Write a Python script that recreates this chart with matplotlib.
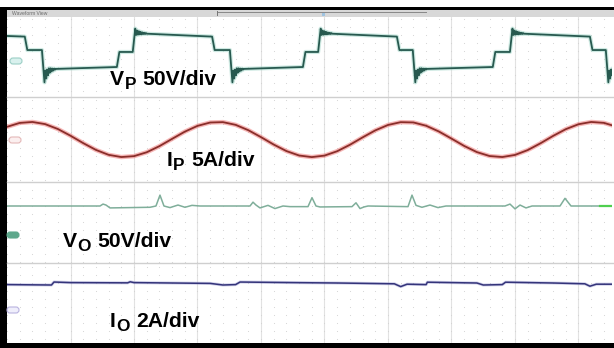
import matplotlib
matplotlib.use("Agg")
import matplotlib.pyplot as plt
from matplotlib.patches import Rectangle, FancyBboxPatch

# ---------------- data (time in divisions, 63.5 px per div) ----------------
# VP: three-level quasi-square wave, 50 V/div
vp_edge_t = [0.28, 0.55, 1.73, 1.98, 3.23, 3.51, 4.66, 4.90, 6.14, 6.39, 7.65, 7.92, 9.18, 9.43]
vp_edge_to = ["midf", "low", "midr", "high", "midf", "low", "midr", "high",
              "midf", "low", "midr", "high", "midf", "low"]
vp_level_start = {"high": 54, "low": -56, "midf": 3, "midr": -3}
vp_level_end = {"high": 45, "low": -50, "midf": 3, "midr": -3}
vp_ring_high = [16, -4, 10, -3, 8, -2, 6, -2, 4, -1, 3, -1, 2, 0]
vp_ring_low = [-42, -5, -30, -2, -20, 2, -12, 2, -8, 1, -5, 1, -2, 0]
vp_t_end = 9.56

# IP: sinusoidal current, 5 A/div
ip_t = [round(0.2 * i, 1) for i in range(49)]
ip_v = [3.96, 5.18, 5.48, 4.81, 3.29, 1.18, -1.13, -3.25, -4.79, -5.48,
        -5.20, -3.99, -2.08, 0.20, 2.45, 4.26, 5.31, 5.43, 4.58, 2.91,
        0.74, -1.58, -3.61, -5.00, -5.50, -5.03, -3.66, -1.65, 0.66, 2.85,
        4.54, 5.42, 5.33, 4.30, 2.51, 0.28, -2.02, -3.94, -5.17, -5.48,
        -4.82, -3.31, -1.20, 1.12, 3.23, 4.77, 5.48, 5.20, 4.00]

# VO: output voltage, 50 V/div
vo_t = [0, 1.465, 1.512, 1.559, 1.622, 2.252, 2.346, 2.409, 2.472, 2.567, 2.693,
        2.803, 2.913, 3.039, 3.827, 3.874, 3.921, 3.984, 4.110, 4.220, 4.346,
        4.457, 4.740, 4.803, 4.866, 4.929, 5.433, 5.496, 5.559, 5.622, 5.685,
        6.315, 6.378, 6.441, 6.535, 6.661, 6.787, 6.913, 7.843, 7.921, 8.000,
        8.079, 8.173, 8.268, 8.709, 8.787, 8.882, 9.339, 9.559]
vo_v = [0, 0, 6, 3, -6, -4, 0, 34, 0, -5, 3,
        -4, 2, 0, 0, 12, 3, -6, 2, -8, 0,
        -2, -2, 26, 0, -3, -2, 10, -8, -3, 0,
        -2, 34, 2, -4, 3, -5, 0, 0, 6, -9,
        3, -6, 0, 0, 24, 0, 0, 0]

# IO: output current, 2 A/div
io_t = [0, 0.70, 0.74, 1.0, 1.9, 1.94, 2.0, 3.2, 3.4, 3.6, 3.67, 4.5, 5.2,
        6.1, 6.2, 6.3, 6.6, 6.62, 7.4, 7.5, 7.8, 7.85, 8.6, 9.1, 9.18, 9.28, 9.559]
io_v = [-0.2, -0.25, 0.12, 0.05, 0.02, 0.15, 0.05, -0.05, -0.25, -0.2, 0.12, 0.05, 0.0,
        -0.1, -0.45, -0.15, -0.2, 0.1, 0.0, -0.25, -0.2, 0.1, 0.0, -0.1, -0.4, -0.15, -0.15]

labels = [("V", "P", "50V/div"), ("I", "P", "5A/div"), ("V", "O", "50V/div"), ("I", "O", "2A/div")]

# ---------------- figure ----------------
W, H = 614, 348
fig = plt.figure(figsize=(6.14, 3.48), dpi=100)
fig.patch.set_facecolor("white")

X0 = 7
PX_PER_DIV = 63.5
XMAX = (W - X0) / PX_PER_DIV
panels = [(17, 97, 51, 50.0), (97, 182, 139.5, 5.0), (182, 263, 206, 50.0), (263, 343, 283, 2.0)]
DIV_PX = 16.0

axes = []
for (top, bot, zero, upd) in panels:
    ax = fig.add_axes([X0 / W, 1 - bot / H, (W - X0) / W, (bot - top) / H])
    per_px = upd / DIV_PX
    ax.set_xlim(0, XMAX)
    ax.set_ylim(-(bot - zero) * per_px, (zero - top) * per_px)
    ax.axis("off")
    ax.set_zorder(1)
    for k in range(1, 10):
        ax.axvline(k, color="#e2e2e2", lw=0.8, zorder=0)
    xs = [0.2 * i for i in range(int(XMAX / 0.2) + 1)]
    lo, hi = ax.get_ylim()
    rows = []
    r = 0.0
    while r - upd * 0.5 > lo:
        r -= upd * 0.5
    while r < hi:
        rows.append(r)
        r += upd * 0.5
    gx = [x for _ in rows for x in xs]
    gy = [y for y in rows for _ in xs]
    ax.scatter(gx, gy, s=0.6, color="#d2d2d2", zorder=0, linewidths=0)
    axes.append(ax)

# VP trace
pts_t, pts_v = [0.0], [47.0]
cur = "high"
for i, te in enumerate(vp_edge_t):
    pts_t.append(te); pts_v.append(vp_level_end[cur])
    new = vp_edge_to[i]
    ts = te + 0.04
    ring = vp_ring_high if new == "high" else vp_ring_low if new == "low" else None
    if ring is None:
        pts_t.append(ts); pts_v.append(vp_level_start[new])
    else:
        for k, off in enumerate(ring):
            pts_t.append(ts + 0.014 * k); pts_v.append(vp_level_start[new] + off)
    cur = new
pts_t.append(vp_t_end); pts_v.append(vp_level_end[cur])
axes[0].plot(pts_t, pts_v, color="#a6d8cb", lw=3.0, alpha=0.55, solid_joinstyle="round")
axes[0].plot(pts_t, pts_v, color="#27594f", lw=1.3)

# IP trace
axes[1].plot(ip_t, ip_v, color="#ee7070", lw=3.2, alpha=0.5, solid_capstyle="round")
axes[1].plot(ip_t, ip_v, color="#8a2e2a", lw=1.3)

# VO trace
axes[2].plot(vo_t[:-1], vo_v[:-1], color="#7fae9a", lw=1.1)
axes[2].plot(vo_t[-2:], vo_v[-2:], color="#4fcf4f", lw=1.6)

# IO trace
axes[3].plot(io_t, io_v, color="#9a9ad0", lw=2.2, alpha=0.45)
axes[3].plot(io_t, io_v, color="#34347a", lw=1.1)

# ---------------- overlay: frame, bar, markers, labels ----------------
ov = fig.add_axes([0, 0, 1, 1])
ov.set_xlim(0, W); ov.set_ylim(H, 0); ov.axis("off"); ov.set_zorder(5)
ov.patch.set_visible(False)

ov.add_patch(Rectangle((0, 0), W, 7, color="white", lw=0))
ov.add_patch(Rectangle((611.5, 0), 3, H, color="white", lw=0))
ov.add_patch(Rectangle((0, 7), W, 3, color="black", lw=0))
ov.add_patch(Rectangle((0, 7), 6.5, H - 7, color="black", lw=0))
ov.add_patch(Rectangle((0, 343), W, 5, color="black", lw=0))
ov.add_patch(Rectangle((6.5, 10), W, 7, color="#d8d8d8", lw=0))
ov.add_patch(Rectangle((217, 11.5), 210, 1.2, color="#8a8a8a", lw=0))
ov.add_patch(Rectangle((216.5, 10.5), 1.2, 5, color="#777777", lw=0))
ov.add_patch(Rectangle((322, 13), 3, 3, color="#9fc3e0", lw=0))
ov.text(12, 13.8, "Waveform View", fontsize=3.6, color="#6a6a6a", va="center", ha="left",
        family="Liberation Sans")

for yb in (97, 182, 263):
    ov.plot([6.5, W], [yb, yb], color="#cfcfcf", lw=1.0)

markers = [(16, 61, "#d9f1ee", "#9ccfc6"), (15, 140, "#fbefef", "#e4b8b8"),
           (13, 235, "#5ea88c", "#5ea88c"), (13, 310, "#efeefb", "#b9b3e0")]
for cx, cy, fc, ec in markers:
    ov.add_patch(FancyBboxPatch((cx - 6, cy - 3), 12, 6, boxstyle="round,pad=0,rounding_size=3",
                                fc=fc, ec=ec, lw=0.8))

label_pos = [(110, 85), (167, 166), (63, 247), (110, 327)]
FS = 15.2
renderer = fig.canvas.get_renderer()
for (x, yb), (main, sub, rest) in zip(label_pos, labels):
    kw = dict(family="Liberation Sans", fontweight="bold", color="black", va="baseline", ha="left")
    t1 = ov.text(x, yb, main, fontsize=FS, **kw)
    x2 = t1.get_window_extent(renderer).x1
    t2 = ov.text(x2 + 0.5, yb + 4, sub, fontsize=FS * 0.82, **kw)
    x3 = t2.get_window_extent(renderer).x1
    ov.text(x3 + 6, yb, rest, fontsize=FS, **kw)

fig.savefig("out.png", dpi=100, facecolor="white")
